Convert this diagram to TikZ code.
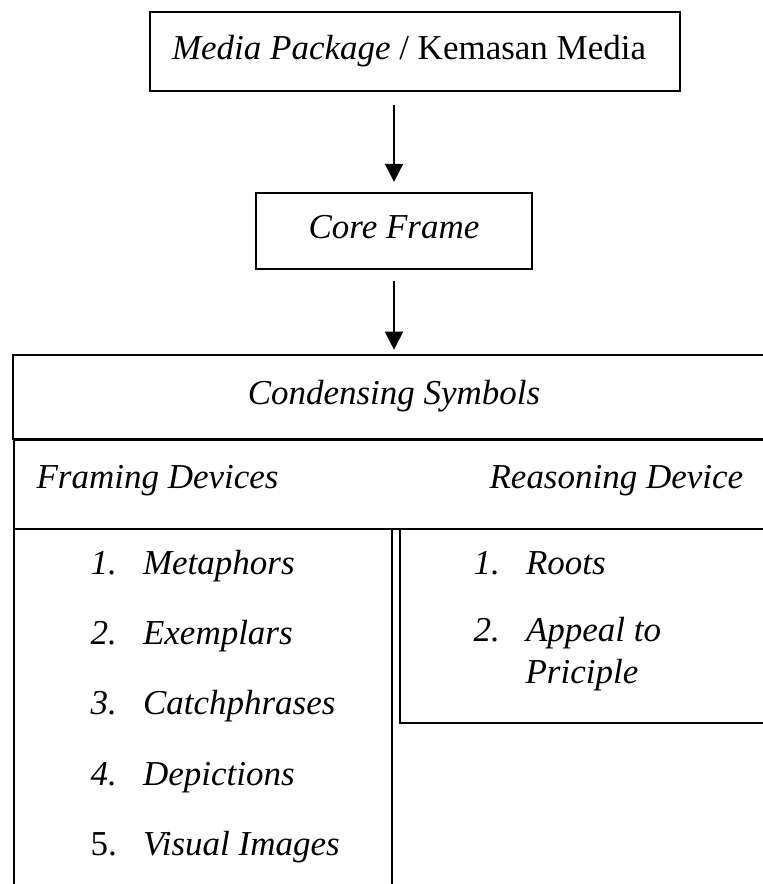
\documentclass[tikz,border=0pt]{standalone}
\usepackage{fontspec}
\setmainfont{Liberation Serif}
\usepackage{tikz}
\usetikzlibrary{
  arrows.meta,
  positioning
}
\newcommand{\pxu}{0.343pt}

\begin{document}
\begin{tikzpicture}[
      x=\pxu, y=-\pxu,
      box/.style={
         rectangle,
         draw=black,
         line width=0.65pt,
         inner sep=0pt,
         font=\fontsize{12pt}{14.4pt}\selectfont\itshape,
         text height=9.8pt,
         text depth=4.6pt
      },
      cell/.style={
         rectangle,
         draw=black,
         line width=0.65pt,
         inner sep=0pt,
         anchor=north west
      },
      item/.style={
         anchor=west,
         inner sep=0pt,
         font=\fontsize{12pt}{14.4pt}\selectfont\itshape,
         text height=9.8pt,
         text depth=4.6pt
      },
      tip/.style={-{Triangle[length=6.2pt,width=6.2pt]},line width=0.7pt},
    ]
    \useasboundingbox (0,0) rectangle (763,884);
    \clip (0,0) rectangle (763,884);
    % top boxes
    \node (media) [box, minimum width=530*\pxu, minimum height=79*\pxu,
                   text width=486*\pxu, align=flush left] at (415,51.5)
          {Media Package {\upshape / Kemasan Media}};
    \node (core) [box, minimum width=276*\pxu, minimum height=76*\pxu] at (394,231) {Core Frame};
    \node (cond) [box, minimum width=762*\pxu, minimum height=84*\pxu] at (394,397) {Condensing Symbols};
    % table
    \node (devices) [cell, minimum width=762*\pxu, minimum height=89*\pxu] at (13,439) {};
    \node (leftcol) [cell, minimum width=378*\pxu, minimum height=370*\pxu] at (13,528) {};
    \node (rightcol) [cell, minimum width=376*\pxu, minimum height=194*\pxu] at (399,528) {};
    \node (framing) [item] at (36,481) {Framing Devices};
    \node (reasoning) [item] at (489,481) {Reasoning Device};
    % framing devices
    \node (f1) [item] at (90,567) {\makebox[1.5em][l]{1.}Metaphors};
    \node (f2) [item] at (90,637) {\makebox[1.5em][l]{2.}Exemplars};
    \node (f3) [item] at (90,707) {\makebox[1.5em][l]{3.}Catchphrases};
    \node (f4) [item] at (90,778) {\makebox[1.5em][l]{4.}Depictions};
    \node (f5) [item] at (90,848) {\makebox[1.5em][l]{\upshape 5.}Visual Images};
    % reasoning device
    \node (r1) [item] at (473,567) {\makebox[1.5em][l]{1.}Roots};
    \node (r2) [item] at (473,634) {\makebox[1.5em][l]{2.}Appeal to};
    \node (r3) [item] at (525,676) {Priciple};
    % arrows
    \draw[tip, shorten <=4.5pt, shorten >=3.5pt] (media.south -| core.north) -- (core.north);
    \draw[tip, shorten <=3.8pt, shorten >=1.5pt] (core.south) -- (cond.north);
\end{tikzpicture}
\end{document}
